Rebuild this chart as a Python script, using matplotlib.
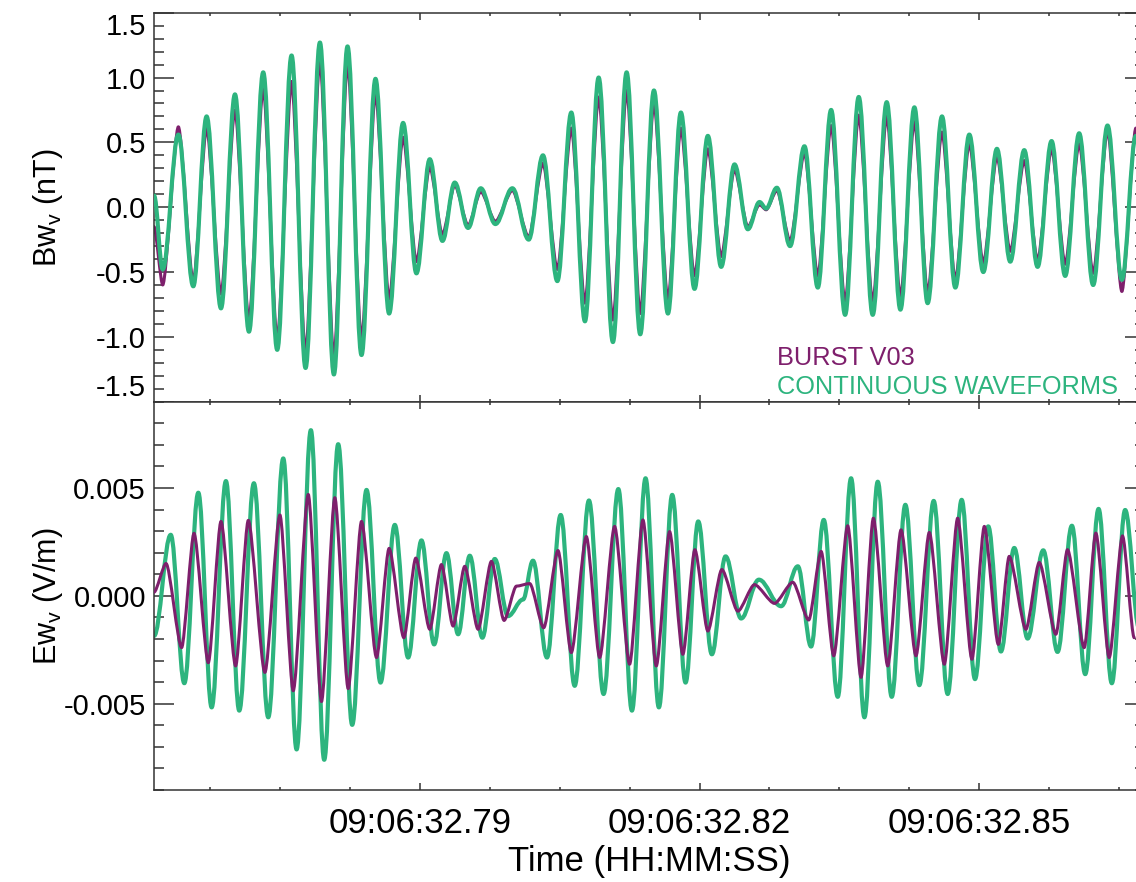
import numpy as np
import matplotlib
matplotlib.use('Agg')
import matplotlib.pyplot as plt
from matplotlib.path import Path
from matplotlib.patches import PathPatch
from matplotlib.ticker import MultipleLocator, FuncFormatter

plt.rcParams['font.family'] = ['Liberation Sans', 'DejaVu Sans']
plt.rcParams['mathtext.fontset'] = 'custom'
plt.rcParams['mathtext.rm'] = 'Liberation Sans'
plt.rcParams['axes.unicode_minus'] = False

# time of each extremum, seconds after 09:06:00
t_b = [32.76150, 32.76243, 32.76411, 32.76571, 32.76714, 32.76868, 32.77018, 32.77168,
       32.77321, 32.77471, 32.77625, 32.77775, 32.77929, 32.78079, 32.78225, 32.78375,
       32.78525, 32.78671, 32.78821, 32.78964, 32.79107, 32.79243, 32.79375, 32.79518,
       32.79654, 32.79811, 32.79993, 32.80168, 32.80321, 32.80475, 32.80625, 32.80771,
       32.80918, 32.81071, 32.81218, 32.81364, 32.81511, 32.81661, 32.81800, 32.81946,
       32.82089, 32.82232, 32.82375, 32.82518, 32.82643, 32.82714, 32.82829, 32.82971,
       32.83125, 32.83268, 32.83411, 32.83561, 32.83707, 32.83857, 32.84007, 32.84154,
       32.84304, 32.84446, 32.84600, 32.84743, 32.84893, 32.85043, 32.85189, 32.85332,
       32.85482, 32.85625, 32.85775, 32.85921, 32.86071, 32.86221, 32.86375, 32.86529,
       32.86679]

# Bw_v (nT) - continuous waveforms
bw_cont = [0.09, -0.48, 0.56, -0.61, 0.70, -0.78, 0.87, -0.96,
           1.04, -1.10, 1.17, -1.24, 1.27, -1.29, 1.24, -1.14,
           0.99, -0.82, 0.65, -0.51, 0.37, -0.26, 0.19, -0.16,
           0.146, -0.13, 0.146, -0.25, 0.40, -0.57, 0.73, -0.88,
           1.00, -1.04, 1.04, -0.98, 0.90, -0.82, 0.73, -0.63,
           0.55, -0.46, 0.33, -0.17, 0.04, -0.01, 0.15, -0.30,
           0.47, -0.62, 0.75, -0.83, 0.85, -0.83, 0.81, -0.79,
           0.77, -0.74, 0.70, -0.62, 0.56, -0.50, 0.45, -0.42,
           0.44, -0.46, 0.51, -0.53, 0.57, -0.60, 0.63, -0.56,
           0.55]

# Bw_v (nT) - burst V03
bw_burst = [-0.15, -0.60, 0.62, -0.57, 0.61, -0.67, 0.75, -0.87,
            0.92, -1.02, 0.97, -1.12, 1.13, -1.16, 1.11, -1.02,
            0.88, -0.71, 0.54, -0.42, 0.31, -0.21, 0.17, -0.14,
            0.12, -0.11, 0.13, -0.23, 0.34, -0.48, 0.61, -0.74,
            0.85, -0.87, 0.90, -0.82, 0.80, -0.71, 0.61, -0.53,
            0.45, -0.38, 0.29, -0.15, 0.02, -0.02, 0.13, -0.26,
            0.42, -0.53, 0.63, -0.73, 0.71, -0.73, 0.70, -0.69,
            0.66, -0.66, 0.58, -0.56, 0.49, -0.43, 0.39, -0.34,
            0.36, -0.41, 0.45, -0.44, 0.49, -0.51, 0.59, -0.65,
            0.61]

# Ew_v (V/m) - continuous waveforms
t_ec = [32.76150, 32.76329, 32.76475, 32.76625, 32.76768, 32.76921, 32.77064, 32.77221,
        32.77375, 32.77536, 32.77679, 32.77832, 32.77975, 32.78125, 32.78275, 32.78429,
        32.78579, 32.78732, 32.78875, 32.79018, 32.79154, 32.79286, 32.79411, 32.79536,
        32.79671, 32.79804, 32.79946, 32.80107, 32.80214, 32.80364, 32.80511, 32.80661,
        32.80814, 32.80971, 32.81129, 32.81275, 32.81421, 32.81564, 32.81707, 32.81850,
        32.81986, 32.82132, 32.82279, 32.82446, 32.82636, 32.82875, 32.83054, 32.83196,
        32.83332, 32.83482, 32.83625, 32.83768, 32.83911, 32.84061, 32.84207, 32.84357,
        32.84511, 32.84661, 32.84811, 32.84954, 32.85096, 32.85232, 32.85375, 32.85518,
        32.85686, 32.85839, 32.85993, 32.86136, 32.86279, 32.86421, 32.86564, 32.86714]
ew_cont = [-0.00186, 0.00283, -0.00405, 0.00478, -0.00517, 0.00532, -0.00532, 0.00522,
           -0.00563, 0.00637, -0.00712, 0.00768, -0.00760, 0.00703, -0.00598, 0.00491,
           -0.00402, 0.00329, -0.00286, 0.00257, -0.00225, 0.00198, -0.00178, 0.00186,
           -0.00194, 0.00171, -0.00094, -0.00017, 0.00163, -0.00286, 0.00375, -0.00417,
           0.00442, -0.00455, 0.00495, -0.00532, 0.00545, -0.00517, 0.00468, -0.00402,
           0.00345, -0.00271, 0.00183, -0.00105, 0.00075, -0.00048, 0.00137, -0.00235,
           0.00352, -0.00468, 0.00545, -0.00563, 0.00529, -0.00468, 0.00422, -0.00414,
           0.00440, -0.00455, 0.00445, -0.00386, 0.00322, -0.00258, 0.00222, -0.00198,
           0.00211, -0.00260, 0.00325, -0.00363, 0.00403, -0.00405, 0.00398, -0.00150]

# Ew_v (V/m) - burst V03
t_eb = [32.76150, 32.76279, 32.76446, 32.76579, 32.76732, 32.76868, 32.77025, 32.77161,
        32.77339, 32.77500, 32.77643, 32.77804, 32.77946, 32.78089, 32.78232, 32.78375,
        32.78536, 32.78671, 32.78829, 32.78957, 32.79107, 32.79232, 32.79357, 32.79482,
        32.79625, 32.79768, 32.79904, 32.80036, 32.80179, 32.80329, 32.80482, 32.80625,
        32.80786, 32.80929, 32.81089, 32.81250, 32.81393, 32.81536, 32.81679, 32.81821,
        32.81950, 32.82089, 32.82239, 32.82411, 32.82589, 32.82804, 32.83000, 32.83171,
        32.83304, 32.83439, 32.83589, 32.83732, 32.83864, 32.84018, 32.84161, 32.84321,
        32.84464, 32.84625, 32.84768, 32.84921, 32.85054, 32.85204, 32.85321, 32.85500,
        32.85643, 32.85821, 32.85946, 32.86125, 32.86250, 32.86393, 32.86536, 32.86661]
ew_burst = [0.00017, 0.00150, -0.00240, 0.00290, -0.00310, 0.00345, -0.00325, 0.00350,
            -0.00355, 0.00375, -0.00440, 0.00470, -0.00490, 0.00455, -0.00430, 0.00345,
            -0.00286, 0.00220, -0.00194, 0.00175, -0.00155, 0.00145, -0.00140, 0.00137,
            -0.00155, 0.00160, -0.00114, 0.00045, 0.00057, -0.00148, 0.00210, -0.00263,
            0.00275, -0.00286, 0.00322, -0.00317, 0.00352, -0.00325, 0.00298, -0.00271,
            0.00214, -0.00163, 0.00122, -0.00071, 0.00052, -0.00035, 0.00063, -0.00112,
            0.00206, -0.00278, 0.00325, -0.00378, 0.00360, -0.00325, 0.00306, -0.00278,
            0.00294, -0.00317, 0.00360, -0.00294, 0.00322, -0.00225, 0.00183, -0.00155,
            0.00155, -0.00178, 0.00214, -0.00240, 0.00291, -0.00286, 0.00278, -0.00194]

col_burst = '#7e1f6c'
col_cont = '#2db47e'
t_min, t_max = 32.76153, 32.86777


def smooth_wave(ax, t, v, color, lw, k=0.364, z=2):
    # cubic segments with flat tangents at each extremum
    verts = [(t[0], v[0])]
    codes = [Path.MOVETO]
    for i in range(1, len(t)):
        dt = t[i] - t[i - 1]
        verts += [(t[i - 1] + k * dt, v[i - 1]), (t[i] - k * dt, v[i]), (t[i], v[i])]
        codes += [Path.CURVE4] * 3
    ax.add_patch(PathPatch(Path(verts, codes), fill=False, edgecolor=color, lw=lw,
                           capstyle='round', joinstyle='round', zorder=z))


def style_axis(ax):
    ax.set_xlim(t_min, t_max)
    ax.xaxis.set_major_locator(MultipleLocator(0.03))
    ax.xaxis.set_minor_locator(MultipleLocator(0.0075))
    ax.xaxis.set_major_formatter(FuncFormatter(lambda x, p: '09:06:%05.2f' % x))
    ax.tick_params(axis='x', which='both', direction='in', top=True, bottom=True,
                   color='#333333', width=1.1, labelsize=25, pad=12)
    ax.tick_params(axis='x', which='major', length=5)
    ax.tick_params(axis='x', which='minor', length=2.5)
    ax.tick_params(axis='y', which='both', direction='in', left=True, right=True,
                   color='#333333', width=1.1, labelsize=21, pad=6)
    ax.tick_params(axis='y', which='major', length=14.4)
    ax.tick_params(axis='y', which='minor', length=7.2)
    for s in ax.spines.values():
        s.set_color('#333333')
        s.set_linewidth(1.1)


fig = plt.figure(figsize=(11.36, 8.82), dpi=100)
ax1 = fig.add_axes([0.13583, 0.54456, 0.87210, 0.44104])
ax2 = fig.add_axes([0.13583, 0.10431, 0.87210, 0.44025])

# top panel: magnetic field (burst underneath, continuous on top)
smooth_wave(ax1, t_b, bw_burst, col_burst, 2.2, k=0.25, z=2)
smooth_wave(ax1, t_b, bw_cont, col_cont, 3.0, z=3)
style_axis(ax1)
ax1.set_ylim(-1.5, 1.5)
ax1.set_yticks([-1.5, -1.0, -0.5, 0.0, 0.5, 1.0, 1.5])
ax1.yaxis.set_minor_locator(MultipleLocator(0.1))
ax1.yaxis.set_major_formatter(FuncFormatter(lambda y, p: '%.1f' % y))
ylabs = ax1.get_yticklabels()
ylabs[0].set_va('bottom')
ylabs[-1].set_va('top')
ax1.tick_params(axis='x', labelbottom=False)
ax1.set_ylabel('Bw$_\\mathrm{v}$ (nT)', fontsize=22)
ax1.yaxis.set_label_coords(-0.09, 0.5)
ax1.text(0.6286, 0.1123, 'BURST V03', color=col_burst, fontsize=18.3,
         transform=ax1.transAxes, ha='left', va='center')
ax1.text(0.6286, 0.0378, 'CONTINUOUS WAVEFORMS', color=col_cont, fontsize=18.3,
         transform=ax1.transAxes, ha='left', va='center')

# bottom panel: electric field
smooth_wave(ax2, t_ec, ew_cont, col_cont, 3.0)
smooth_wave(ax2, t_eb, ew_burst, col_burst, 2.2, k=0.25, z=3)
style_axis(ax2)
ax2.set_ylim(-0.009, 0.009)
ax2.yaxis.set_major_locator(MultipleLocator(0.005))
ax2.yaxis.set_minor_locator(MultipleLocator(0.001))
ax2.yaxis.set_major_formatter(FuncFormatter(lambda y, p: '%.3f' % y))
ax2.set_ylabel('Ew$_\\mathrm{v}$ (V/m)', fontsize=22)
ax2.yaxis.set_label_coords(-0.09, 0.5)
ax2.set_xlabel('Time (HH:MM:SS)', fontsize=25, labelpad=3.5)

fig.savefig('out.png', dpi=100)
